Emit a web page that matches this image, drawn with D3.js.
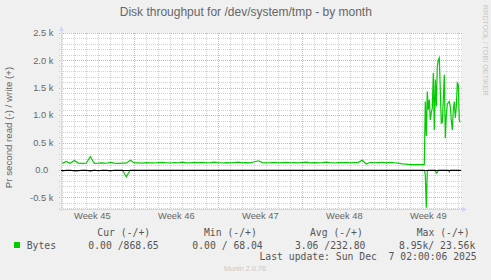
<!DOCTYPE html>
<html>
<head>
<meta charset="utf-8">
<script src="https://cdn.jsdelivr.net/npm/d3@7"></script>
<style>
  html, body { margin: 0; padding: 0; background: #f0f0f0; }
  svg { display: block; }
  text.pre { white-space: pre; }
</style>
</head>
<body>
<svg id="chart" width="491" height="280"></svg>
<script>
// --- Data ---
const title = "Disk throughput for /dev/system/tmp - by month";
const yLabel = "Pr second read (-) / write (+)";

const weekLabels = ["Week 45", "Week 46", "Week 47", "Week 48", "Week 49"];
const weekStarts = ["2025-11-03", "2025-11-10", "2025-11-17", "2025-11-24", "2025-12-01"];

const yTicks = [-500, 0, 500, 1000, 1500, 2000, 2500];
const yTickLabels = ["-0.5 k", "0.0", "0.5 k", "1.0 k", "1.5 k", "2.0 k", "2.5 k"];

// quiet part: one sample every 8 hours from 2025-11-04 00:00
const flatStart = "2025-11-04T00:00:00Z";
const writeFlat = [
  120, 155, 122, 172, 126, 120, 124, 245, 122, 125,
  130, 123, 140, 124, 122, 126, 125, 178, 128, 132,
  126, 135, 130, 128, 134, 140, 132, 128, 136, 132,
  142, 131, 129, 138, 133, 140, 130, 135, 144, 132,
  128, 136, 131, 137, 142, 130, 134, 131, 150, 168,
  135, 130, 133, 138, 131, 136, 140, 132, 135, 130,
  137, 143, 131, 136, 130, 134, 145, 132, 128, 136,
  133, 139, 130, 135, 140, 178, 110, 140, 132, 136,
  141, 130, 138, 132, 125, 112, 108, 98, 97, 98,
  98
];
const readFlat = [
  -25, 0, 0, -20, -15, 0, 0, -25, 0, -18,
  0, 0, -22, 0, 0, 0, -125, 0, 0, 0,
  0, 0, 0, 0, 0, 0, 0, 0, 0, 0,
  0, 0, 0, 0, 0, 0, 0, 0, 0, 0,
  0, 0, 0, 0, 0, 0, 0, 0, 0, 0,
  0, 0, 0, 0, 0, 0, 0, 0, 0, 0,
  0, 0, 0, 0, 0, 0, 0, 0, 0, 0,
  0, 0, 0, 0, 0, 0, 0, 0, 0, 0,
  0, 0, 0, 0, 0, 0, 0, 0, 0, 0,
  0
];

// busy part: one sample every 2 hours from 2025-12-04 04:00
const burstStart = "2025-12-04T04:00:00Z";
const writeBurst = [
  98, 1250, 620, 1430, 1100, 1280, 915, 1050, 1130, 1770,
  730, 1650, 1160, 1890, 2010, 2045, 1460, 855, 870, 1280,
  1740, 580, 1000, 1200, 1230, 1250, 1160, 900, 730, 1100,
  1250, 950, 1150, 1586, 1555, 915, 869
];
const readBurst = [
  0, -90, -690, -15, 0, 0, 0, 0, 0, 0,
  0, 0, -60, -45, 0, 0, 0, 0, 0, 0,
  0, 0, 0, 0, 0, -35, 0, 0, 0, 0,
  0, 0, 0, 0, 0, 0, 0
];

const legendName = "Bytes";
const legendHeaders = ["Cur (-/+)", "Min (-/+)", "Avg (-/+)", "Max (-/+)"];
const legendValues = ["0.00 /868.65", "0.00 / 68.04", "3.06 /232.80", "8.95k/ 23.56k"];
const lastUpdate = "Last update: Sun Dec  7 02:00:06 2025";
const version = "Munin 2.0.76";
const watermark = "RRDTOOL / TOBI OETIKER";

// --- Layout ---
const plot = { left: 61, right: 461, top: 33, bottom: 209 };
const green = "#00cc00";
const fontColor = "#666666";
const axisColor = "#cfd6f8";
const sans = "'Liberation Sans', Arial, sans-serif";
const mono = "'DejaVu Sans Mono', monospace";

const t0 = new Date("2025-11-03T21:24:00Z");
const t1 = d3.utcHour.offset(t0, 800); // 400 px at 2 h per px

const x = d3.scaleUtc().domain([t0, t1]).range([plot.left, plot.right]);
const y = d3.scaleLinear().domain([-712, 2500]).range([plot.bottom, plot.top]);

// build time series
const series = [];
writeFlat.forEach((v, i) => series.push({ t: d3.utcHour.offset(new Date(flatStart), i * 8), w: v, r: readFlat[i] }));
writeBurst.forEach((v, i) => series.push({ t: d3.utcHour.offset(new Date(burstStart), i * 2), w: v, r: readBurst[i] }));

const svg = d3.select("#chart");

svg.append("rect").attr("width", 491).attr("height", 280).attr("fill", "#f0f0f0");
svg.append("rect")
  .attr("x", plot.left).attr("y", plot.top)
  .attr("width", plot.right - plot.left).attr("height", plot.bottom - plot.top)
  .attr("fill", "#ffffff");

// --- Grid ---
const grid = svg.append("g").attr("shape-rendering", "crispEdges").attr("stroke-dasharray", "1,1");

const minorY = d3.range(-700, 2501, 100).filter((v) => v % 500 !== 0);
grid.selectAll(".hminor").data(minorY).join("line")
  .attr("x1", plot.left - 2).attr("x2", plot.right + 2)
  .attr("y1", (d) => Math.round(y(d)) + 0.5).attr("y2", (d) => Math.round(y(d)) + 0.5)
  .attr("stroke", "#d2d2d2");

const days = d3.utcDay.range(t0, t1).filter((d) => d.getUTCDay() !== 1);
grid.selectAll(".vminor").data(days).join("line")
  .attr("x1", (d) => Math.round(x(d)) + 0.5).attr("x2", (d) => Math.round(x(d)) + 0.5)
  .attr("y1", plot.top).attr("y2", plot.bottom + 2)
  .attr("stroke", "#d2d2d2");

grid.selectAll(".hmajor").data(yTicks).join("line")
  .attr("x1", plot.left - 2).attr("x2", plot.right + 2)
  .attr("y1", (d) => Math.round(y(d)) + 0.5).attr("y2", (d) => Math.round(y(d)) + 0.5)
  .attr("stroke", "#f0a4a4");

const weekDates = weekStarts.map((s) => new Date(s + "T00:00:00Z"));
grid.selectAll(".vmajor").data(weekDates.filter((d) => d > t0)).join("line")
  .attr("x1", (d) => Math.round(x(d)) + 0.5).attr("x2", (d) => Math.round(x(d)) + 0.5)
  .attr("y1", plot.top).attr("y2", plot.bottom + 2)
  .attr("stroke", "#f0a4a4");

// --- Axes (rrdtool style lines with arrows) ---
svg.append("line")
  .attr("x1", plot.left + 0.5).attr("x2", plot.left + 0.5)
  .attr("y1", plot.bottom + 2).attr("y2", plot.top - 4)
  .attr("stroke", axisColor).attr("shape-rendering", "crispEdges");
svg.append("path")
  .attr("d", `M${plot.left - 2},${plot.top - 2}L${plot.left + 0.5},${plot.top - 7}L${plot.left + 3},${plot.top - 2}Z`)
  .attr("fill", axisColor);
svg.append("line")
  .attr("x1", plot.left - 2).attr("x2", plot.right + 2)
  .attr("y1", plot.bottom + 0.5).attr("y2", plot.bottom + 0.5)
  .attr("stroke", axisColor).attr("shape-rendering", "crispEdges");
svg.append("path")
  .attr("d", `M${plot.right + 1},${plot.bottom - 2}L${plot.right + 6},${plot.bottom + 0.5}L${plot.right + 1},${plot.bottom + 3}Z`)
  .attr("fill", axisColor);

// y tick labels
svg.append("g").selectAll("text").data(yTicks).join("text")
  .attr("x", (d) => d === 0 ? 48.3 : 53.3)
  .attr("y", (d) => y(d) + 3.3)
  .attr("text-anchor", "end")
  .attr("font-family", sans).attr("font-size", "9.3px").attr("fill", fontColor)
  .text((d, i) => yTickLabels[i]);

// week labels, centred in the middle of each week
svg.append("g").selectAll("text").data(weekDates).join("text")
  .attr("x", (d) => x(d3.utcHour.offset(d, 84)))
  .attr("y", 219)
  .attr("text-anchor", "middle")
  .attr("font-family", sans).attr("font-size", "9.3px").attr("fill", fontColor)
  .text((d, i) => weekLabels[i]);

// --- Lines ---
const writeLine = d3.line().x((d) => x(d.t)).y((d) => y(d.w));
const readLine = d3.line().x((d) => x(d.t)).y((d) => y(d.r));

svg.append("path").datum(series)
  .attr("d", writeLine)
  .attr("fill", "none").attr("stroke", green).attr("stroke-width", 1.2);
svg.append("path").datum(series)
  .attr("d", readLine)
  .attr("fill", "none").attr("stroke", green).attr("stroke-width", 1.2);

// zero rule
svg.append("line")
  .attr("x1", plot.left).attr("x2", plot.right)
  .attr("y1", Math.round(y(0)) + 0.5).attr("y2", Math.round(y(0)) + 0.5)
  .attr("stroke", "#000").attr("stroke-width", 1).attr("shape-rendering", "crispEdges");

// --- Texts ---
svg.append("text")
  .attr("x", 245.8).attr("y", 16)
  .attr("text-anchor", "middle")
  .attr("font-family", sans).attr("font-size", "12px").attr("fill", fontColor)
  .text(title);

svg.append("text")
  .attr("transform", "translate(11.7,127.5) rotate(-90)")
  .attr("text-anchor", "middle")
  .attr("font-family", sans).attr("font-size", "9.7px").attr("fill", fontColor)
  .text(yLabel);

svg.append("text")
  .attr("transform", "translate(483,5) rotate(90)")
  .attr("font-family", sans).attr("font-size", "7.2px").attr("fill", "#c8c8c8")
  .text(watermark);

// --- Legend ---
const headerX = [97.3, 204, 310, 416.7];
const valueX = [88.3, 192.3, 295, 399];
const legend = svg.append("g")
  .attr("font-family", mono).attr("font-size", "9.75px").attr("fill", "#555");

legend.selectAll(".hdr").data(legendHeaders).join("text")
  .attr("class", "pre").attr("xml:space", "preserve")
  .attr("x", (d, i) => headerX[i]).attr("y", 235.8).text((d) => d);
legend.selectAll(".val").data(legendValues).join("text")
  .attr("class", "pre").attr("xml:space", "preserve")
  .attr("x", (d, i) => valueX[i]).attr("y", 248.5).text((d) => d);

svg.append("rect").attr("x", 14).attr("y", 242).attr("width", 6).attr("height", 6).attr("fill", green);
legend.append("text").attr("x", 26.7).attr("y", 248.5).text(legendName);
legend.append("text")
  .attr("class", "pre").attr("xml:space", "preserve")
  .attr("x", 476.7).attr("y", 260.2).attr("text-anchor", "end").text(lastUpdate);

svg.append("text")
  .attr("x", 245).attr("y", 270.5)
  .attr("text-anchor", "middle")
  .attr("font-family", sans).attr("font-size", "7.3px").attr("fill", "#c8c8c8")
  .text(version);
</script>
</body>
</html>
